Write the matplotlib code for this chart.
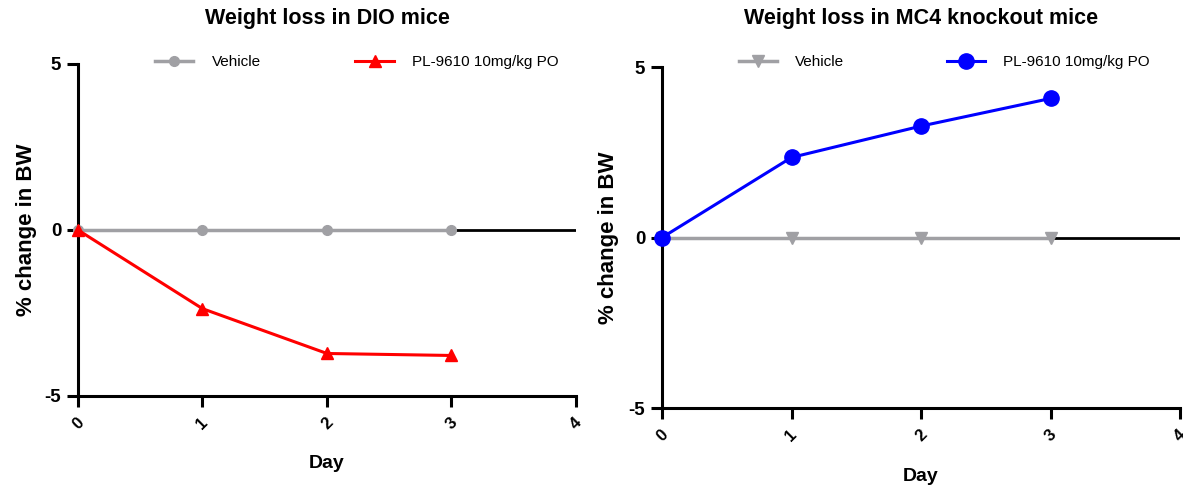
import matplotlib.pyplot as plt
import numpy as np

plt.rcParams['font.family'] = ['Liberation Sans', 'DejaVu Sans']

days = [0, 1, 2, 3]
dio_vehicle = [0, 0, 0, 0]
dio_pl9610 = [0, -2.37, -3.72, -3.78]
mc4_vehicle = [0, 0, 0, 0]
mc4_pl9610 = [0, 2.35, 3.27, 4.08]

xticks = [0, 1, 2, 3, 4]
yticks = [-5, 0, 5]

gray = '#A0A0A4'

fig = plt.figure(figsize=(11.83, 4.87), dpi=100)
ax1 = fig.add_axes([0.0659, 0.1869, 0.421, 0.6817])
ax2 = fig.add_axes([0.5596, 0.1622, 0.4379, 0.700])


def style(ax):
    ax.set_xlim(0, 4)
    ax.set_ylim(-5, 5)
    for s in ['top', 'right']:
        ax.spines[s].set_visible(False)
    for s in ['left', 'bottom']:
        ax.spines[s].set_linewidth(2.2)
    ax.set_xticks(xticks)
    ax.set_yticks(yticks)
    ax.set_xticklabels([str(t) for t in xticks], rotation=45, ha='center',
                       va='top', fontweight='bold', fontsize=12)
    ax.set_yticklabels([str(t) for t in yticks], fontweight='bold', fontsize=13.5)
    ax.tick_params(axis='both', length=8, width=2.2, direction='out')
    ax.tick_params(axis='x', pad=6)
    ax.tick_params(axis='y', pad=4)
    ax.axhline(0, color='black', lw=2.0, zorder=1)
    ax.set_xlabel('Day', fontsize=14, fontweight='bold', va='top')
    ax.set_ylabel('% change in BW', fontsize=16, fontweight='bold')


style(ax1)
ax1.plot(days, dio_vehicle, color=gray, lw=2.5, marker='o', ms=7,
         label='Vehicle', clip_on=False, zorder=3)
ax1.plot(days, dio_pl9610, color='#FF0000', lw=2.2, marker='^', ms=8,
         label='PL-9610 10mg/kg PO', clip_on=False, zorder=4)
ax1.set_title('Weight loss in DIO mice', fontsize=15.5, fontweight='bold',
              y=1.12, pad=0)
ax1.legend(loc='center', bbox_to_anchor=(0.56, 1.006), ncol=2, frameon=False,
           fontsize=11, handlelength=2.5, columnspacing=6.2, handletextpad=1.2)
ax1.yaxis.set_label_coords(-0.082, 0.5)
ax1.xaxis.set_label_coords(0.5, -0.178)

style(ax2)
ax2.plot(days, mc4_vehicle, color=gray, lw=2.5, marker='v', ms=9,
         label='Vehicle', clip_on=False, zorder=3)
ax2.plot(days, mc4_pl9610, color='#0000FF', lw=2.2, marker='o', ms=11,
         label='PL-9610 10mg/kg PO', clip_on=False, zorder=4)
ax2.set_title('Weight loss in MC4 knockout mice', fontsize=15.5, fontweight='bold',
              y=1.126, pad=0)
ax2.legend(loc='center', bbox_to_anchor=(0.545, 1.015), ncol=2, frameon=False,
           fontsize=11, handlelength=2.5, columnspacing=6.7, handletextpad=1.2)
ax2.yaxis.set_label_coords(-0.083, 0.5)
ax2.xaxis.set_label_coords(0.5, -0.176)

fig.savefig('out.png', dpi=100)
